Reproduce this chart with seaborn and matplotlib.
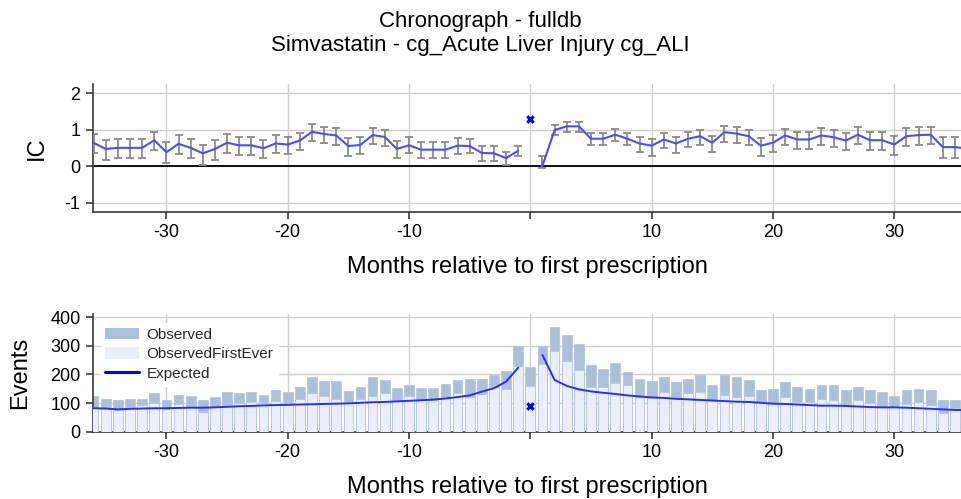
import numpy as np
import pandas as pd
import matplotlib
matplotlib.use("Agg")
import matplotlib.pyplot as plt
from matplotlib.patches import Patch
from matplotlib.lines import Line2D
import seaborn as sns

# ---------------- data ----------------
months = list(range(-36, 37))

ic = [0.64, 0.47, 0.50, 0.50, 0.50, 0.71, 0.38, 0.61, 0.50, 0.35, 0.47, 0.64,
      0.57, 0.57, 0.49, 0.62, 0.59, 0.70, 0.94, 0.88, 0.84, 0.55, 0.58, 0.85,
      0.80, 0.47, 0.57, 0.45, 0.45, 0.45, 0.56, 0.55, 0.36, 0.35, 0.22, 0.42,
      np.nan,
      0.01, 0.99, 1.09, 1.09, 0.75, 0.75, 0.86, 0.75, 0.62, 0.56, 0.73, 0.62,
      0.75, 0.82, 0.64, 0.93, 0.89, 0.82, 0.56, 0.64, 0.84, 0.73, 0.73, 0.84,
      0.79, 0.70, 0.86, 0.71, 0.71, 0.59, 0.82, 0.85, 0.86, 0.52, 0.52, 0.48]

ic_err_hi = [0.24, 0.24, 0.24, 0.24, 0.24, 0.23, 0.27, 0.24, 0.24, 0.24, 0.24, 0.23,
             0.23, 0.23, 0.23, 0.22, 0.22, 0.22, 0.20, 0.20, 0.20, 0.21, 0.21, 0.19,
             0.19, 0.21, 0.23, 0.21, 0.21, 0.21, 0.20, 0.20, 0.19, 0.19, 0.17, 0.14,
             np.nan,
             0.26, 0.13, 0.11, 0.11, 0.16, 0.16, 0.15, 0.16, 0.18, 0.19, 0.18, 0.18,
             0.18, 0.18, 0.19, 0.16, 0.17, 0.18, 0.22, 0.22, 0.19, 0.20, 0.20, 0.20,
             0.21, 0.22, 0.21, 0.22, 0.22, 0.24, 0.22, 0.22, 0.22, 0.28, 0.28, 0.28]

ic_err_lo = [0.29, 0.29, 0.28, 0.28, 0.28, 0.27, 0.29, 0.28, 0.28, 0.33, 0.29, 0.27,
             0.27, 0.27, 0.28, 0.26, 0.26, 0.26, 0.26, 0.25, 0.25, 0.26, 0.26, 0.24,
             0.24, 0.25, 0.22, 0.24, 0.24, 0.24, 0.22, 0.20, 0.21, 0.20, 0.19, 0.15,
             np.nan,
             0.06, 0.15, 0.16, 0.16, 0.18, 0.18, 0.18, 0.18, 0.24, 0.27, 0.24, 0.25,
             0.23, 0.23, 0.25, 0.28, 0.26, 0.25, 0.27, 0.26, 0.25, 0.25, 0.25, 0.25,
             0.26, 0.27, 0.25, 0.27, 0.27, 0.28, 0.26, 0.26, 0.26, 0.31, 0.31, 0.31]

ic_at_zero = 1.29

observed = [125, 115, 111, 115, 115, 134, 111, 129, 124, 111, 120, 139,
            134, 139, 129, 145, 139, 157, 190, 177, 177, 143, 157, 190,
            181, 153, 162, 153, 153, 167, 181, 185, 185, 197, 211, 300,
            225,
            298, 367, 339, 307, 233, 219, 239, 210, 185, 177, 191, 172,
            185, 197, 162, 197, 191, 181, 145, 148, 172, 157, 148, 162,
            162, 145, 157, 145, 139, 124, 145, 148, 145, 111, 111, 111]

observed_first = [85, 82, 76, 87, 93, 101, 78, 97, 90, 68, 85, 95,
                  99, 103, 99, 106, 101, 115, 134, 125, 115, 105, 115, 125,
                  134, 111, 125, 111, 111, 120, 134, 120, 132, 155, 150, 228,
                  158,
                  235, 283, 248, 216, 155, 156, 171, 163, 120, 117, 140, 122,
                  134, 140, 111, 128, 120, 125, 105, 105, 120, 105, 105, 115,
                  111, 93, 111, 99, 87, 87, 97, 105, 93, 64, 82, 80]

expected = [82, 81, 78, 80, 81, 82, 82, 83, 84, 84, 85, 87,
            89, 90, 92, 93, 94, 95, 96, 97, 98, 99, 101, 103,
            104, 106, 108, 110, 112, 116, 121, 127, 140, 152, 175, 224,
            np.nan,
            268, 181, 160, 148, 141, 136, 132, 127, 123, 120, 118, 115,
            113, 111, 109, 107, 105, 104, 101, 98, 97, 95, 93, 91,
            91, 90, 88, 86, 85, 85, 84, 82, 80, 78, 76, 76]

expected_at_zero = 91

xticks = [-30, -20, -10, 0, 10, 20, 30]
xtick_labels = ["-30", "-20", "-10", "", "10", "20", "30"]

title_lines = ["Chronograph - fulldb", "Simvastatin - cg_Acute Liver Injury cg_ALI"]

# ---------------- style ----------------
sns.set_theme(style="whitegrid")
plt.rcParams["font.family"] = ["Liberation Sans", "DejaVu Sans"]
plt.rcParams["axes.unicode_minus"] = False

df = pd.DataFrame({
    "month": months,
    "ic": ic,
    "lo": ic_err_lo,
    "hi": ic_err_hi,
    "observed": observed,
    "first": observed_first,
    "expected": expected,
})
df["seg"] = np.where(df["month"] < 0, "pre", "post")
df_line = df[df["month"] != 0]

fig = plt.figure(figsize=(9.61, 4.99), dpi=100)
ax1 = fig.add_axes([93 / 961, 1 - 211.7 / 499, 868 / 961, (211.7 - 84) / 499])
ax2 = fig.add_axes([93 / 961, 1 - 431.7 / 499, 868 / 961, (431.7 - 314.4) / 499])

grid_col = "#cfcfcf"
spine_col = "#3a3a3a"
line_col = "#4d4dff"

for ax in (ax1, ax2):
    ax.set_facecolor("white")
    ax.grid(True, color=grid_col, linewidth=1.0)
    ax.set_axisbelow(True)
    for s in ("top", "right"):
        ax.spines[s].set_visible(False)
    for s in ("left", "bottom"):
        ax.spines[s].set_color(spine_col)
        ax.spines[s].set_linewidth(1.2)
    ax.tick_params(axis="both", which="major", direction="out", length=5,
                   width=1.2, color=spine_col, labelsize=13, pad=4,
                   left=True, bottom=True, labelcolor="black")

# ---------- IC panel ----------
ax1.set_ylim(-1.25, 2.25)
ax1.set_yticks([-1, 0, 1, 2])
ax1.axhline(0, color="black", linewidth=1.3, zorder=2)
ax1.errorbar(df_line["month"], df_line["ic"],
             yerr=[df_line["lo"], df_line["hi"]], fmt="none",
             ecolor="#8a8a8a", elinewidth=1.3, capsize=3.2, capthick=1.3, zorder=3)
sns.lineplot(data=df_line, x="month", y="ic", units="seg", estimator=None,
             color=line_col, linewidth=1.5, ax=ax1, zorder=4)
ax1.scatter([0], [ic_at_zero], marker="x", color="#0000ee", s=22,
            linewidths=2.2, zorder=5)
ax1.set_xlim(-36.05, 35.5)
ax1.set_xticks(xticks)
ax1.set_xticklabels(xtick_labels)
ax1.set_ylabel("IC", fontsize=17, labelpad=12, color="black")
ax1.set_xlabel("Months relative to first prescription", fontsize=17,
               labelpad=11, color="black")

# ---------- Events panel ----------
ax2.set_ylim(0, 410)
ax2.set_yticks([0, 100, 200, 300, 400])
sns.barplot(data=df, x="month", y="observed", native_scale=True, color="#abc0da",
            saturation=1, width=0.8, edgecolor="#b4c7df", linewidth=0.6,
            ax=ax2, zorder=2)
sns.barplot(data=df, x="month", y="first", native_scale=True, color="#eaf0fb",
            saturation=1, width=0.8, edgecolor="#b4c7df", linewidth=0.6,
            ax=ax2, zorder=3)
sns.lineplot(data=df_line, x="month", y="expected", units="seg", estimator=None,
             color="#2b2bff", linewidth=1.4, ax=ax2, zorder=4)
ax2.scatter([0], [expected_at_zero], marker="x", color="#0000ee", s=22,
            linewidths=2.2, zorder=5)
ax2.set_xlim(-36.05, 35.5)
ax2.set_xticks(xticks)
ax2.set_xticklabels(xtick_labels)
ax2.set_ylabel("Events", fontsize=17, labelpad=14, color="black")
ax2.set_xlabel("Months relative to first prescription", fontsize=17,
               labelpad=11, color="black")

handles = [Patch(facecolor="#abc0da", edgecolor="none"),
           Patch(facecolor="#eaf0fb", edgecolor="none"),
           Line2D([0], [0], color="#0000ff", linewidth=2.2)]
leg = ax2.legend(handles, ["Observed", "ObservedFirstEver", "Expected"],
                 loc="upper left", bbox_to_anchor=(0.0, 0.99), frameon=True,
                 facecolor="white", edgecolor="white", framealpha=1,
                 fontsize=11, handlelength=2.2, handleheight=0.8,
                 labelspacing=0.35, borderpad=0.3, borderaxespad=0.5,
                 handletextpad=0.5)
leg.set_zorder(6)

fig.text(0.5, 1 - 21 / 499, title_lines[0], ha="center", va="center",
         fontsize=16, color="black")
fig.text(0.5, 1 - 46 / 499, title_lines[1], ha="center", va="center",
         fontsize=16, color="black")

fig.savefig("out.png", dpi=100, facecolor="white")
